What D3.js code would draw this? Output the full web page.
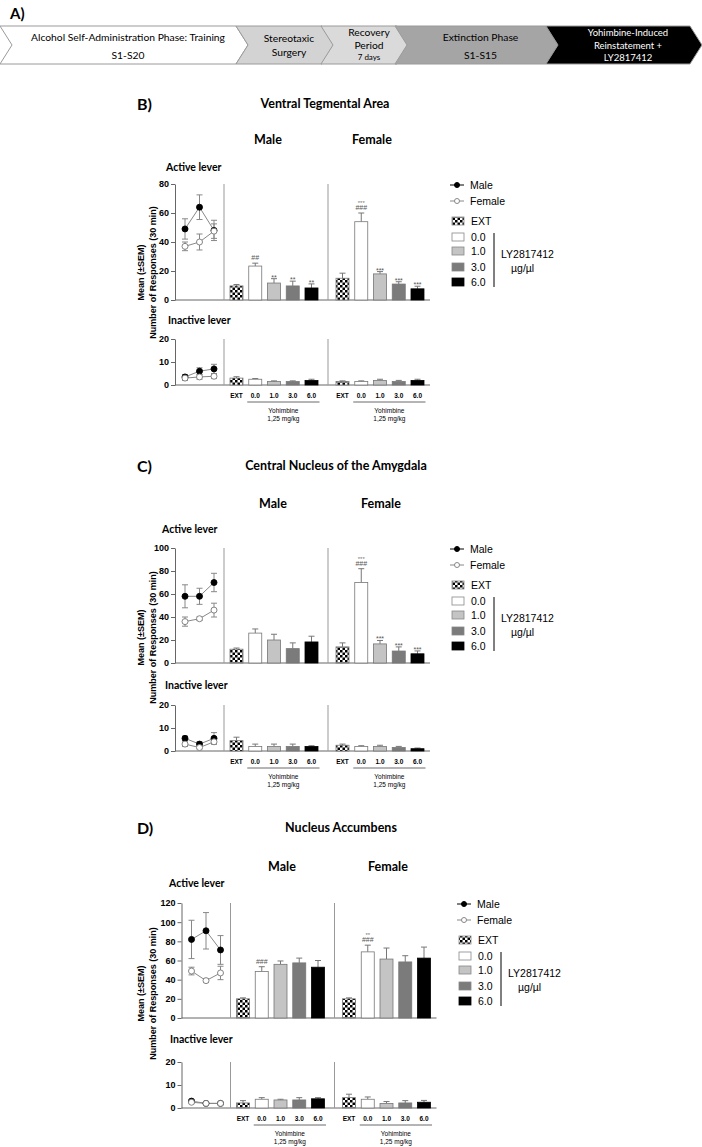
<!DOCTYPE html>
<html><head><meta charset="utf-8">
<script src="https://cdn.jsdelivr.net/npm/d3@7"></script>
<style>body{margin:0;background:#fff}svg{display:block}</style>
</head><body><svg id="c" width="702" height="1147"></svg>
<script>
// ---------- DATA ----------
const timelineSteps = ["Alcohol Self-Administration Phase: Training|S1-S20", "Stereotaxic|Surgery", "Recovery|Period|7 days", "Extinction Phase|S1-S15", "Yohimbine-Induced|Reinstatement +|LY2817412"];
const doses = ["EXT", "0.0", "1.0", "3.0", "6.0"];
const baselineSessions = ["B1", "B2", "B3"];
const legendSex = ["Male", "Female"];
const vtaActTicks = [0, 20, 40, 60, 80];
const cnaActTicks = [0, 20, 40, 60, 80, 100];
const nacActTicks = [0, 20, 40, 60, 80, 100, 120];
const inactTicks = [0, 10, 20];

// VTA
const vtaActLineMale = [49, 64, 48], vtaActLineMaleErr = [7, 8.5, 7];
const vtaActLineFemale = [37, 40, 47.5], vtaActLineFemaleErr = [3, 5.5, 5];
const vtaActBarMale = [9.7, 23.4, 11.7, 9.7, 8.3], vtaActBarMaleErr = [1, 2, 3, 3.3, 2.8];
const vtaActBarFemale = [15, 54, 18, 11, 7.7], vtaActBarFemaleErr = [3.5, 6, 1.6, 1.6, 1.8];
const vtaInLineMale = [3.5, 6, 7], vtaInLineMaleErr = [1, 1.5, 2];
const vtaInLineFemale = [3, 3.5, 3.8], vtaInLineFemaleErr = [1, 1, 1];
const vtaInBarMale = [3, 2.5, 1.5, 1.5, 2], vtaInBarMaleErr = [0.6, 0.3, 0.3, 0.3, 0.5];
const vtaInBarFemale = [1.5, 1.5, 2, 1.5, 2], vtaInBarFemaleErr = [0.3, 0.3, 0.5, 0.5, 0.5];
const vtaSigMale = ["", "##", "**", "**", "**"], vtaSigFemale = ["", "###", "***", "***", "***"], vtaSigFemaleTop = ["", "***", "", "", ""];

// CeA
const cnaActLineMale = [58, 58, 70], cnaActLineMaleErr = [10, 7, 8];
const cnaActLineFemale = [36, 38.5, 46], cnaActLineFemaleErr = [4, 1.5, 6];
const cnaActBarMale = [12, 26, 20, 12.5, 18.3], cnaActBarMaleErr = [1, 3.6, 5, 5, 5];
const cnaActBarFemale = [14, 70, 16.6, 10.4, 8], cnaActBarFemaleErr = [3.5, 12, 3, 3.6, 2.5];
const cnaInLineMale = [5.5, 3, 5.5], cnaInLineMaleErr = [1, 1, 2.5];
const cnaInLineFemale = [3, 1.5, 4], cnaInLineFemaleErr = [1, 0.5, 1];
const cnaInBarMale = [4.5, 2, 2, 2, 2], cnaInBarMaleErr = [1.5, 1, 1, 1, 0.3];
const cnaInBarFemale = [2.5, 2, 2, 1.5, 1], cnaInBarFemaleErr = [0.5, 0.3, 0.5, 0.5, 0.3];
const cnaSigMale = ["", "", "", "", ""], cnaSigFemale = ["", "###", "***", "***", "***"], cnaSigFemaleTop = ["", "***", "", "", ""];

// NAc
const nacActLineMale = [82, 91, 71], nacActLineMaleErr = [20, 19, 15];
const nacActLineFemale = [49, 39, 47], nacActLineFemaleErr = [4, 2, 7];
const nacActBarMale = [20, 48.5, 56, 57.5, 53], nacActBarMaleErr = [1, 5, 3.5, 5, 7];
const nacActBarFemale = [20, 69, 61.5, 58.5, 62.5], nacActBarFemaleErr = [1, 7, 11.5, 6.5, 11.5];
const nacInLineMale = [3, 2, 2], nacInLineMaleErr = [0.5, 0.3, 0.3];
const nacInLineFemale = [2.5, 2, 2], nacInLineFemaleErr = [0.5, 0.3, 0.3];
const nacInBarMale = [2.2, 3.8, 3.5, 3.5, 4], nacInBarMaleErr = [1, 0.7, 0.3, 1, 0.5];
const nacInBarFemale = [4.5, 3.8, 2, 2.2, 2.5], nacInBarFemaleErr = [1.5, 1, 0.8, 1, 0.8];
const nacSigMale = ["", "###", "", "", ""], nacSigFemale = ["", "###", "", "", ""], nacSigFemaleTop = ["", "**", "", "", ""];

// ---------- DRAW ----------
const svg = d3.select("#c");
const ARIAL = "'Liberation Sans', Arial, sans-serif";
const CAL = "Lato, 'Open Sans', sans-serif";
const defs = svg.append("defs");
const pat = defs.append("pattern").attr("id", "chk").attr("patternUnits", "userSpaceOnUse").attr("width", 5).attr("height", 5);
pat.append("rect").attr("width", 5).attr("height", 5).attr("fill", "#fff");
pat.append("rect").attr("width", 2.5).attr("height", 2.5).attr("fill", "#000");
pat.append("rect").attr("x", 2.5).attr("y", 2.5).attr("width", 2.5).attr("height", 2.5).attr("fill", "#000");
const barFill = {"EXT": "url(#chk)", "0.0": "#fff", "1.0": "#c4c4c4", "3.0": "#7b7b7b", "6.0": "#000"};

// timeline
svg.append("text").attr("x", 10).attr("y", 13).attr("dominant-baseline", "central").attr("font-family", CAL).attr("font-weight", "bold").attr("font-size", 15).text("A)");
const tlStart = [0, 236, 321, 395, 546], tlEnd = [248, 334, 409, 558, 702];
const tlFill = ["#fff", "#d3d3d3", "#dadada", "#a5a5a5", "#000"];
const tlText = ["#000", "#000", "#000", "#000", "#fff"];
const tTop = 26, tBot = 64, tMid = (tTop + tBot) / 2, tip = 12;
timelineSteps.forEach((s, i) => {
  const a = tlStart[i], b = tlEnd[i];
  const pts = [[a, tTop], [b - tip, tTop], [b, tMid], [b - tip, tBot], [a, tBot], [a + tip, tMid]];
  svg.append("path").attr("d", d3.line()(pts) + "Z").attr("fill", tlFill[i]).attr("stroke", "#9a9a9a").attr("stroke-width", 1);
  const lines = s.split("|");
  const cx = (a + tip + b) / 2 - 2;
  let ys;
  if (lines.length === 2) ys = i === 1 ? [38, 52] : [37, 55];
  else ys = [32, 45, 57];
  lines.forEach((t, j) => {
    svg.append("text").attr("x", cx).attr("y", ys[j]).attr("text-anchor", "middle").attr("dominant-baseline", "central")
      .attr("font-family", CAL).attr("font-size", (i === 2 && j === 2) ? 8 : (i === 4 ? 9.5 : 10.3)).attr("fill", tlText[i]).text(t);
  });
});

function drawPanel(c, d) {
  const g = svg.append("g");
  g.append("text").attr("x", 137).attr("y", c.labelY).attr("dominant-baseline", "central").attr("font-family", CAL).attr("font-weight", "bold").attr("font-size", 16).text(c.label);
  g.append("text").attr("x", c.titleX).attr("y", c.labelY).attr("text-anchor", "middle").attr("dominant-baseline", "central").attr("font-family", CAL).attr("font-weight", "bold").attr("font-size", 12.5).text(c.title);
  g.append("text").attr("x", c.maleX).attr("y", c.sexY).attr("text-anchor", "middle").attr("dominant-baseline", "central").attr("font-family", CAL).attr("font-weight", "bold").attr("font-size", 12.5).text("Male");
  g.append("text").attr("x", c.femX).attr("y", c.sexY).attr("text-anchor", "middle").attr("dominant-baseline", "central").attr("font-family", CAL).attr("font-weight", "bold").attr("font-size", 12.5).text("Female");
  g.append("text").attr("x", c.actLabelX).attr("y", c.actLabelY).attr("dominant-baseline", "central").attr("font-family", CAL).attr("font-weight", "bold").attr("font-size", 10.5).text("Active lever");
  g.append("text").attr("x", c.inLabelX).attr("y", c.inLabelY).attr("dominant-baseline", "central").attr("font-family", CAL).attr("font-weight", "bold").attr("font-size", 10.5).text("Inactive lever");
  const yc = (c.actTop + c.in0) / 2 - 12;
  g.append("text").attr("transform", `translate(141,${yc}) rotate(-90)`).attr("text-anchor", "middle").attr("dominant-baseline", "central").attr("font-family", ARIAL).attr("font-weight", "bold").attr("font-size", 9).text("Mean (\u00b1SEM)");
  g.append("text").attr("transform", `translate(153,${yc}) rotate(-90)`).attr("text-anchor", "middle").attr("dominant-baseline", "central").attr("font-family", ARIAL).attr("font-weight", "bold").attr("font-size", 9).text("Number of Responses (30 min)");

  const x0 = c.x0;
  const xl = d3.scalePoint().domain(baselineSessions).range([x0 + 10, x0 + 39]);
  const xm = d3.scalePoint().domain(doses).range([x0 + 61.5, x0 + 136.5]);
  const xf = d3.scalePoint().domain(doses).range([x0 + 167.5, x0 + 242.5]);
  const bw = 13;

  function sub(yScale, ticks, lm, lme, lf, lfe, bm, bme, bf, bfe, sigM, sigF, sigFT) {
    const y0 = yScale(0), yt = yScale(ticks[ticks.length - 1]);
    const ax = g.append("g").attr("transform", `translate(${x0},0)`).call(d3.axisLeft(yScale).tickValues(ticks).tickSize(4).tickSizeOuter(0).tickPadding(2));
    ax.selectAll("path,line").attr("stroke", "#666");
    ax.selectAll("text").attr("font-family", ARIAL).attr("font-weight", "bold").attr("font-size", 9).attr("fill", "#000");
    g.append("line").attr("x1", x0).attr("x2", x0 + 255).attr("y1", y0).attr("y2", y0).attr("stroke", "#666");
    [x0 + 49, x0 + 153].forEach(xx => g.append("line").attr("x1", xx).attr("x2", xx).attr("y1", yt).attr("y2", y0).attr("stroke", "#999"));
    const lg = d3.line().x((v, i) => xl(baselineSessions[i])).y(v => yScale(v));
    [[lm, lme], [lf, lfe]].forEach(([vals, errs]) => {
      vals.forEach((v, i) => {
        const xx = xl(baselineSessions[i]);
        g.append("line").attr("x1", xx).attr("x2", xx).attr("y1", yScale(v - errs[i])).attr("y2", yScale(v + errs[i])).attr("stroke", "#888");
        [v - errs[i], v + errs[i]].forEach(e => g.append("line").attr("x1", xx - 3).attr("x2", xx + 3).attr("y1", yScale(e)).attr("y2", yScale(e)).attr("stroke", "#888"));
      });
      g.append("path").attr("d", lg(vals)).attr("fill", "none").attr("stroke", "#888");
    });
    [[lm, "#000", "#000"], [lf, "#fff", "#777"]].forEach(([vals, fill, st]) => {
      vals.forEach((v, i) => g.append("circle").attr("cx", xl(baselineSessions[i])).attr("cy", yScale(v)).attr("r", 3).attr("fill", fill).attr("stroke", st).attr("stroke-width", 0.9));
    });
    [[xm, bm, bme, sigM, null], [xf, bf, bfe, sigF, sigFT]].forEach(([xs, vals, errs, sig, sigT]) => {
      doses.forEach((k, i) => {
        const xc = xs(k), v = vals[i], e = errs[i];
        const et = yScale(v + e);
        g.append("line").attr("x1", xc).attr("x2", xc).attr("y1", yScale(v)).attr("y2", et).attr("stroke", "#777");
        g.append("line").attr("x1", xc - 3).attr("x2", xc + 3).attr("y1", et).attr("y2", et).attr("stroke", "#777");
        g.append("rect").attr("x", xc - bw / 2).attr("y", yScale(v)).attr("width", bw).attr("height", y0 - yScale(v))
          .attr("fill", barFill[k]).attr("stroke", k === "6.0" ? "#000" : "#777").attr("stroke-width", 0.8);
        if (sig && sig[i]) {
          const isStar = sig[i].indexOf("*") >= 0;
          g.append("text").attr("x", xc).attr("y", isStar ? et + 1 : et - 3).attr("text-anchor", "middle").attr("font-family", ARIAL).attr("font-size", 7).attr("fill", "#555").text(sig[i]);
        }
        if (sigT && sigT[i]) {
          g.append("text").attr("x", xc).attr("y", et - 8).attr("text-anchor", "middle").attr("font-family", ARIAL).attr("font-size", 6).attr("fill", "#777").text(sigT[i]);
        }
      });
    });
    return y0;
  }
  const yA = d3.scaleLinear().domain([0, d.actTicks[d.actTicks.length - 1]]).range([c.act0, c.actTop]);
  const yI = d3.scaleLinear().domain([0, 20]).range([c.in0, c.inTop]);
  sub(yA, d.actTicks, d.aLM, d.aLME, d.aLF, d.aLFE, d.aBM, d.aBME, d.aBF, d.aBFE, d.sigM, d.sigF, d.sigFT);
  const y0 = sub(yI, inactTicks, d.iLM, d.iLME, d.iLF, d.iLFE, d.iBM, d.iBME, d.iBF, d.iBFE, null, null, null);
  [xm, xf].forEach(xs => {
    doses.forEach(k => g.append("text").attr("x", xs(k)).attr("y", y0 + 10).attr("text-anchor", "middle").attr("dominant-baseline", "central").attr("font-family", ARIAL).attr("font-weight", "bold").attr("font-size", 6.5).text(k));
    g.append("line").attr("x1", xs("0.0") - 8).attr("x2", xs("6.0") + 8).attr("y1", y0 + 17).attr("y2", y0 + 17).attr("stroke", "#444").attr("stroke-width", 0.8);
    const mx = (xs("0.0") + xs("6.0")) / 2;
    g.append("text").attr("x", mx).attr("y", y0 + 25).attr("text-anchor", "middle").attr("dominant-baseline", "central").attr("font-family", ARIAL).attr("font-size", 6.5).text("Yohimbine");
    g.append("text").attr("x", mx).attr("y", y0 + 33).attr("text-anchor", "middle").attr("dominant-baseline", "central").attr("font-family", ARIAL).attr("font-size", 6.5).text("1,25 mg/kg");
  });
  const lx = c.lx, ly = c.ly;
  const lgG = g.append("g").attr("font-family", ARIAL).attr("font-size", 10.5);
  legendSex.forEach((s, i) => {
    const yy = ly + i * 16;
    lgG.append("line").attr("x1", lx).attr("x2", lx + 14).attr("y1", yy).attr("y2", yy).attr("stroke", i === 0 ? "#000" : "#888");
    lgG.append("circle").attr("cx", lx + 7).attr("cy", yy).attr("r", 2.5).attr("fill", i === 0 ? "#000" : "#fff").attr("stroke", i === 0 ? "#000" : "#888");
    lgG.append("text").attr("x", lx + 20).attr("y", yy).attr("dominant-baseline", "central").text(s);
  });
  const dy = [36, 52, 66, 82, 97];
  doses.forEach((k, i) => {
    const yy = ly + dy[i];
    lgG.append("rect").attr("x", lx + 2).attr("y", yy - 4).attr("width", 12).attr("height", 8).attr("fill", barFill[k]).attr("stroke", k === "6.0" ? "#000" : "#888").attr("stroke-width", 0.8);
    lgG.append("text").attr("x", lx + 21).attr("y", yy).attr("dominant-baseline", "central").text(k);
  });
  lgG.append("line").attr("x1", lx + 44).attr("x2", lx + 44).attr("y1", ly + 48).attr("y2", ly + 102).attr("stroke", "#000");
  lgG.append("text").attr("x", lx + 51).attr("y", ly + 69).attr("dominant-baseline", "central").text("LY2817412");
  lgG.append("text").attr("x", lx + 61).attr("y", ly + 83).attr("dominant-baseline", "central").text("\u00b5g/\u00b5l");
}

drawPanel({label: "B)", title: "Ventral Tegmental Area", labelY: 103, titleX: 325, sexY: 139, maleX: 268, femX: 372, actLabelX: 166, actLabelY: 167, inLabelX: 168, inLabelY: 320, x0: 175, actTop: 184, act0: 300, inTop: 339, in0: 385, lx: 450, ly: 185},
  {actTicks: vtaActTicks, aLM: vtaActLineMale, aLME: vtaActLineMaleErr, aLF: vtaActLineFemale, aLFE: vtaActLineFemaleErr, aBM: vtaActBarMale, aBME: vtaActBarMaleErr, aBF: vtaActBarFemale, aBFE: vtaActBarFemaleErr,
   iLM: vtaInLineMale, iLME: vtaInLineMaleErr, iLF: vtaInLineFemale, iLFE: vtaInLineFemaleErr, iBM: vtaInBarMale, iBME: vtaInBarMaleErr, iBF: vtaInBarFemale, iBFE: vtaInBarFemaleErr, sigM: vtaSigMale, sigF: vtaSigFemale, sigFT: vtaSigFemaleTop});
drawPanel({label: "C)", title: "Central Nucleus of the Amygdala", labelY: 465, titleX: 336, sexY: 503, maleX: 273, femX: 381, actLabelX: 162, actLabelY: 529, inLabelX: 165, inLabelY: 685, x0: 175, actTop: 548, act0: 663, inTop: 705, in0: 751, lx: 450, ly: 549},
  {actTicks: cnaActTicks, aLM: cnaActLineMale, aLME: cnaActLineMaleErr, aLF: cnaActLineFemale, aLFE: cnaActLineFemaleErr, aBM: cnaActBarMale, aBME: cnaActBarMaleErr, aBF: cnaActBarFemale, aBFE: cnaActBarFemaleErr,
   iLM: cnaInLineMale, iLME: cnaInLineMaleErr, iLF: cnaInLineFemale, iLFE: cnaInLineFemaleErr, iBM: cnaInBarMale, iBME: cnaInBarMaleErr, iBF: cnaInBarFemale, iBFE: cnaInBarFemaleErr, sigM: cnaSigMale, sigF: cnaSigFemale, sigFT: cnaSigFemaleTop});
drawPanel({label: "D)", title: "Nucleus Accumbens", labelY: 827, titleX: 341, sexY: 866, maleX: 282, femX: 388, actLabelX: 169, actLabelY: 883, inLabelX: 170, inLabelY: 1039, x0: 181.5, actTop: 903, act0: 1018, inTop: 1062, in0: 1108, lx: 457, ly: 904},
  {actTicks: nacActTicks, aLM: nacActLineMale, aLME: nacActLineMaleErr, aLF: nacActLineFemale, aLFE: nacActLineFemaleErr, aBM: nacActBarMale, aBME: nacActBarMaleErr, aBF: nacActBarFemale, aBFE: nacActBarFemaleErr,
   iLM: nacInLineMale, iLME: nacInLineMaleErr, iLF: nacInLineFemale, iLFE: nacInLineFemaleErr, iBM: nacInBarMale, iBME: nacInBarMaleErr, iBF: nacInBarFemale, iBFE: nacInBarFemaleErr, sigM: nacSigMale, sigF: nacSigFemale, sigFT: nacSigFemaleTop});
</script></body></html>
